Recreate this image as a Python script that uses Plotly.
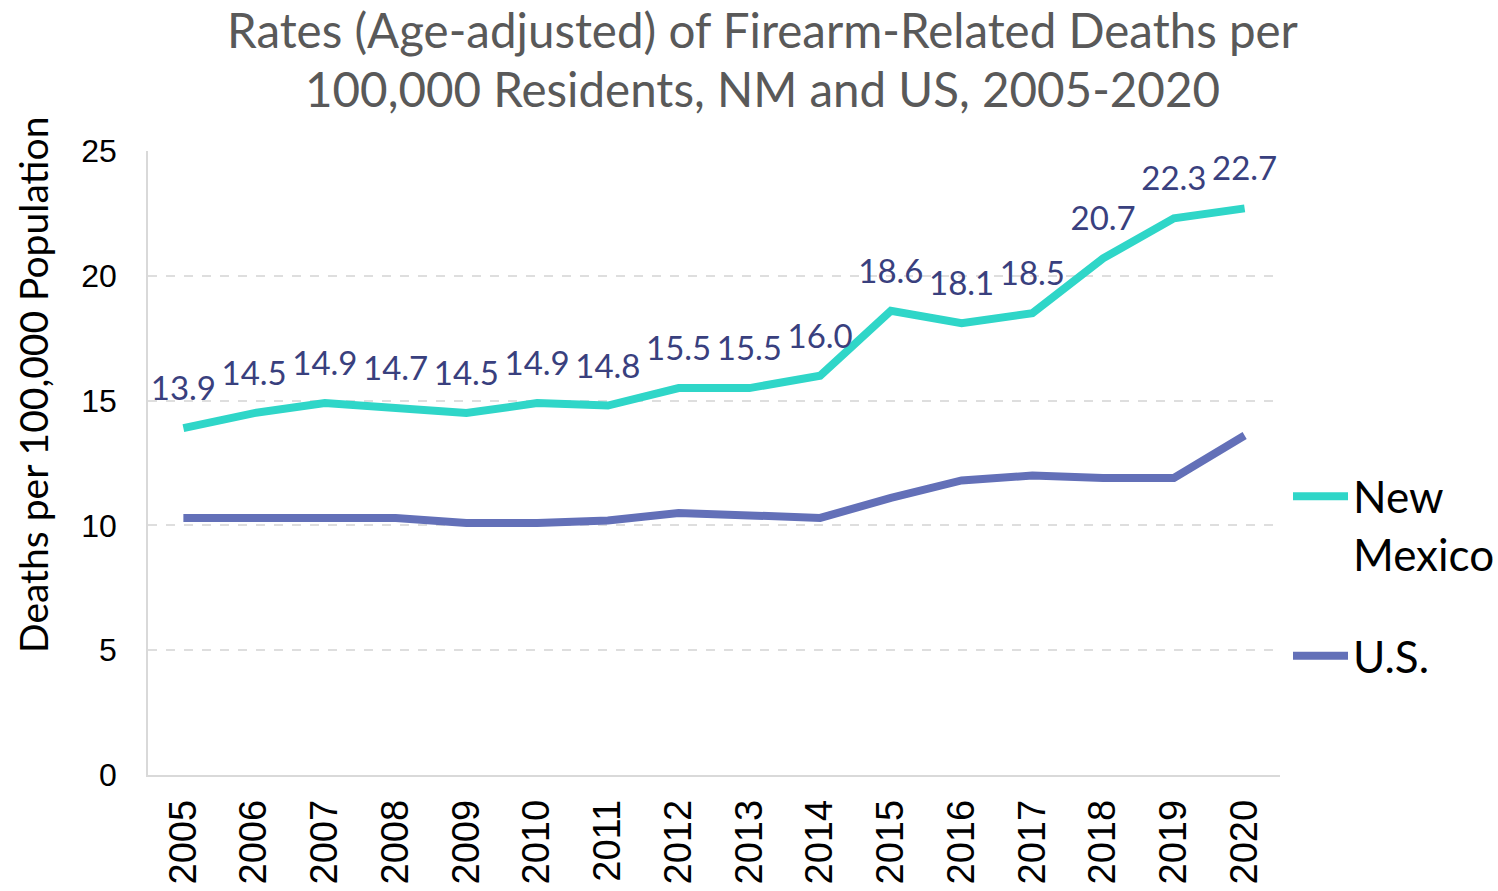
import plotly.graph_objects as go

years = [str(y) for y in range(2005, 2021)]
nm_rates = [13.9, 14.5, 14.9, 14.7, 14.5, 14.9, 14.8, 15.5, 15.5, 16.0,
            18.6, 18.1, 18.5, 20.7, 22.3, 22.7]
us_rates = [10.3, 10.3, 10.3, 10.3, 10.1, 10.1, 10.2, 10.5, 10.4, 10.3,
            11.1, 11.8, 12.0, 11.9, 11.9, 13.6]
series_names = ["New<br>Mexico", "U.S."]
title_lines = ["Rates (Age-adjusted) of Firearm-Related Deaths per",
               "100,000 Residents, NM and US, 2005-2020"]
y_title = "Deaths per 100,000 Population"

NM_COLOR = "#2fd6c8"
US_COLOR = "#6370b8"
LABEL_COLOR = "#39407e"
FONT = "Lato"

# plot area in pixels
L, R, T, B = 148, 1280, 151, 775
PW, PH = R - L, B - T

fig = go.Figure()
fig.add_trace(go.Scatter(
    x=years, y=nm_rates, name=series_names[0], legendgroup="nm",
    mode="lines+markers+text",
    line=dict(color=NM_COLOR, width=8),
    marker=dict(size=30, color="rgba(0,0,0,0)"),
    texttemplate="%{y:.1f}", textposition="top center",
    textfont=dict(family=FONT, size=33, color=LABEL_COLOR),
    hoverinfo="x+y",
))
fig.add_trace(go.Scatter(
    x=years, y=us_rates, name=series_names[1], legendgroup="us",
    mode="lines",
    line=dict(color=US_COLOR, width=8),
))

for txt, yc in zip(title_lines, [29, 89]):
    fig.add_annotation(text=txt, xref="paper", yref="paper",
                       x=(762 - L) / PW, y=1 + (T - yc) / PH,
                       xanchor="center", yanchor="middle", showarrow=False,
                       font=dict(family=FONT, size=47.5, color="#595959"))

fig.add_annotation(text=y_title, xref="paper", yref="paper",
                   x=(33 - L) / PW, y=(B - 385) / PH, textangle=-90,
                   xanchor="center", yanchor="middle", showarrow=False,
                   font=dict(family=FONT, size=39, color="black"))

fig.update_layout(
    width=1498, height=891,
    margin=dict(l=L, r=1498 - R, t=T, b=891 - B, autoexpand=False),
    paper_bgcolor="white", plot_bgcolor="white",
    font=dict(family=FONT, color="black"),
    showlegend=True,
    legend=dict(x=(1288 - L) / PW, xanchor="left", y=0.503, yanchor="top",
                font=dict(family=FONT, size=44, color="black"),
                valign="top", traceorder="grouped", tracegroupgap=42,
                itemwidth=55, bgcolor="rgba(0,0,0,0)"),
    xaxis=dict(type="category", range=[-0.5, 15.5], automargin=False,
               tickangle=-90, tickfont=dict(family="Liberation Sans", size=38, color="black"),
               showgrid=False, showline=True, linecolor="#d9d9d9", linewidth=1.5,
               ticks="", ticklabelstandoff=8, zeroline=False),
    yaxis=dict(range=[0, 25], dtick=5, automargin=False,
               tickfont=dict(family="Liberation Sans", size=32, color="black"),
               showgrid=True, gridcolor="#dedede", griddash="dash", gridwidth=1.5,
               showline=True, linecolor="#d9d9d9", linewidth=1.5,
               ticks="", ticklabelstandoff=23, zeroline=False),
)

fig.write_html("out.html", config={"displayModeBar": False},
               post_script="document.body.style.margin='0';")
